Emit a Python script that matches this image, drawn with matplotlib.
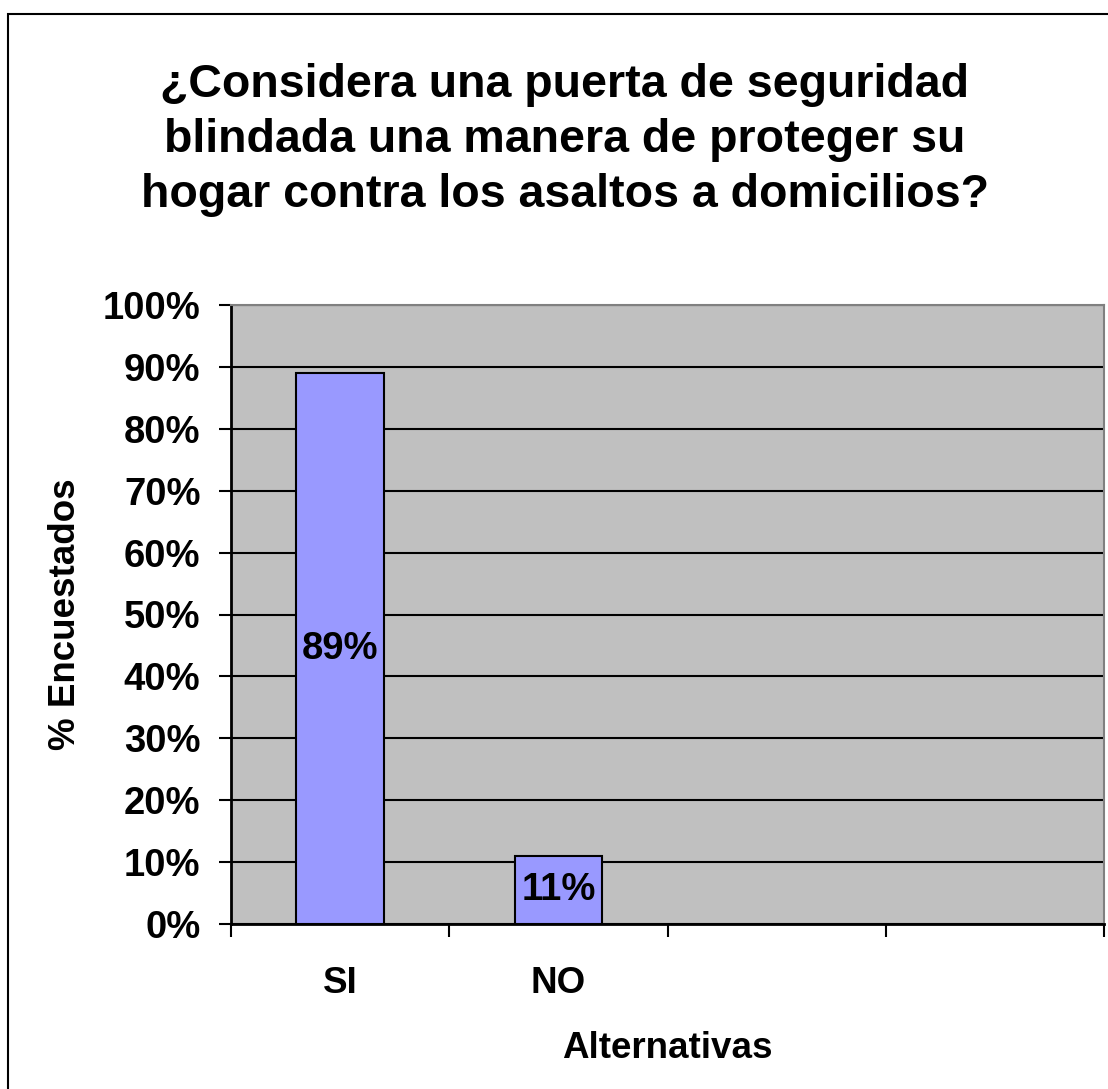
import matplotlib.pyplot as plt
from matplotlib.patches import Rectangle

plt.rcParams['font.family'] = ['Liberation Sans', 'DejaVu Sans']
plt.rcParams['font.weight'] = 'bold'

categorias = ['SI', 'NO', '', '']
valores = [89, 11]
etiquetas = ['89%', '11%']
titulo = '¿Considera una puerta de seguridad\nblindada una manera de proteger su\nhogar contra los asaltos a domicilios?'

fig = plt.figure(figsize=(11.08, 10.89), dpi=100)
ax = fig.add_axes([231 / 1108, 1 - 924 / 1089, 873 / 1108, 619 / 1089])

# marco exterior del grafico
fig.patches.append(Rectangle((8 / 1108, -0.1), 1.2, 1 - 14 / 1089 + 0.1,
                             transform=fig.transFigure, fill=False,
                             edgecolor='black', linewidth=1.5))

ax.set_facecolor('#c0c0c0')
barras = ax.bar(range(len(valores)), valores, width=0.4, color='#9999ff',
                edgecolor='black', linewidth=1.5, zorder=3)
for b, t in zip(barras, etiquetas):
    ax.text(b.get_x() + b.get_width() / 2, b.get_height() / 2, t,
            ha='center', va='center', fontsize=27.5, fontweight='bold', zorder=4)

ax.set_xlim(-0.5, len(categorias) - 0.5)
ax.set_ylim(0, 100)
ax.set_yticks(range(0, 101, 10))
ax.set_yticklabels([f'{v}%' for v in range(0, 101, 10)])
ax.yaxis.grid(True, color='black', linewidth=1.5, zorder=1)
ax.set_axisbelow(True)

ax.set_xticks([i - 0.5 for i in range(len(categorias) + 1)])
ax.set_xticklabels([])
ax.set_xticks(range(len(categorias)), minor=True)
ax.set_xticklabels(categorias, minor=True)
ax.tick_params(axis='x', which='minor', length=0, pad=30, labelsize=26.5)
ax.tick_params(axis='x', which='major', length=9, width=1.5, direction='out')
ax.tick_params(axis='y', length=9, width=1.5, pad=13, labelsize=27.5)

for s in ['left', 'bottom']:
    ax.spines[s].set_linewidth(2)
    ax.spines[s].set_color('black')
for s in ['top', 'right']:
    ax.spines[s].set_linewidth(1.5)
    ax.spines[s].set_color('#808080')

ax.set_ylabel('% Encuestados', fontsize=26.5, fontweight='bold', labelpad=14)
ax.set_xlabel('Alternativas', fontsize=26.5, fontweight='bold', labelpad=22)

fig.text(565 / 1108, 1 - 140 / 1089, titulo, ha='center', va='center',
         fontsize=33.5, fontweight='bold', linespacing=1.32)

fig.savefig('out.png', dpi=100)
